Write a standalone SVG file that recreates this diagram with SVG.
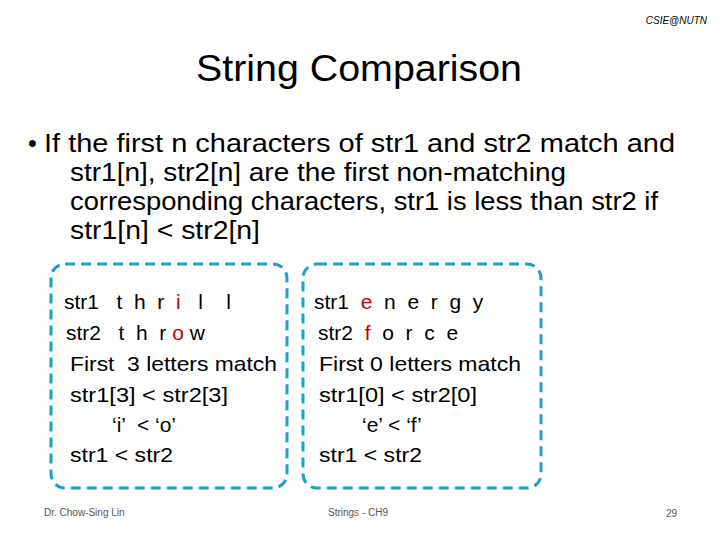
<svg xmlns="http://www.w3.org/2000/svg" width="720" height="540" viewBox="0 0 720 540">
<style>
text{font-family:"Liberation Sans",Arial,sans-serif;fill:#000}
.b{font-size:25px}
.c{font-size:21px}
.f{font-size:10px;fill:#555}
.r{fill:#c00000}
.box{fill:none;stroke:#1a9fd0;stroke-width:3;stroke-dasharray:10,6}
</style>
<rect width="720" height="540" fill="#fff"/>
<text x="707" y="24" font-size="10" font-style="italic" text-anchor="end">CSIE@NUTN</text>
<text x="359" y="81" font-size="37" text-anchor="middle" textLength="326" lengthAdjust="spacingAndGlyphs">String Comparison</text>
<text x="28" y="152" class="b">•</text>
<text x="44" y="152" class="b" textLength="631" lengthAdjust="spacingAndGlyphs">If the first n characters of str1 and str2 match and</text>
<text x="70" y="181" class="b" textLength="496" lengthAdjust="spacingAndGlyphs">str1[n], str2[n] are the first non-matching</text>
<text x="70" y="210" class="b" textLength="588" lengthAdjust="spacingAndGlyphs">corresponding characters, str1 is less than str2 if</text>
<text x="70" y="239" class="b" textLength="190" lengthAdjust="spacingAndGlyphs">str1[n] &lt; str2[n]</text>
<g id="left">
<rect class="box" x="51" y="264" width="236" height="224" rx="14"/>
<text x="64" y="309" class="c" xml:space="preserve">str1   t  h  r  <tspan class="r">i</tspan>   l    l</text>
<text x="66" y="340" class="c" xml:space="preserve">str2   t  h  r <tspan class="r">o</tspan> w</text>
<text x="70" y="371" class="c" textLength="207" lengthAdjust="spacingAndGlyphs" xml:space="preserve">First  3 letters match</text>
<text x="70" y="402" class="c" textLength="158" lengthAdjust="spacingAndGlyphs">str1[3] &lt; str2[3]</text>
<text x="112" y="432" class="c" xml:space="preserve">‘i’  &lt; ‘o’</text>
<text x="70" y="462" class="c" textLength="103" lengthAdjust="spacingAndGlyphs">str1 &lt; str2</text>
</g>
<g id="right">
<rect class="box" x="303" y="264" width="238" height="224" rx="14"/>
<text x="314" y="309" class="c" xml:space="preserve">str1  <tspan class="r">e</tspan>  n  e  r  g  y</text>
<text x="318" y="340" class="c" xml:space="preserve">str2  <tspan class="r">f</tspan>  o  r  c  e</text>
<text x="319" y="371" class="c" textLength="202" lengthAdjust="spacingAndGlyphs">First 0 letters match</text>
<text x="319" y="402" class="c" textLength="158" lengthAdjust="spacingAndGlyphs">str1[0] &lt; str2[0]</text>
<text x="362" y="432" class="c" xml:space="preserve">‘e’ &lt; ‘f’</text>
<text x="319" y="462" class="c" textLength="103" lengthAdjust="spacingAndGlyphs">str1 &lt; str2</text>
</g>
<text x="44" y="516" class="f">Dr. Chow-Sing Lin</text>
<text x="328" y="516" class="f">Strings - CH9</text>
<text x="666" y="517" class="f">29</text>
</svg>
